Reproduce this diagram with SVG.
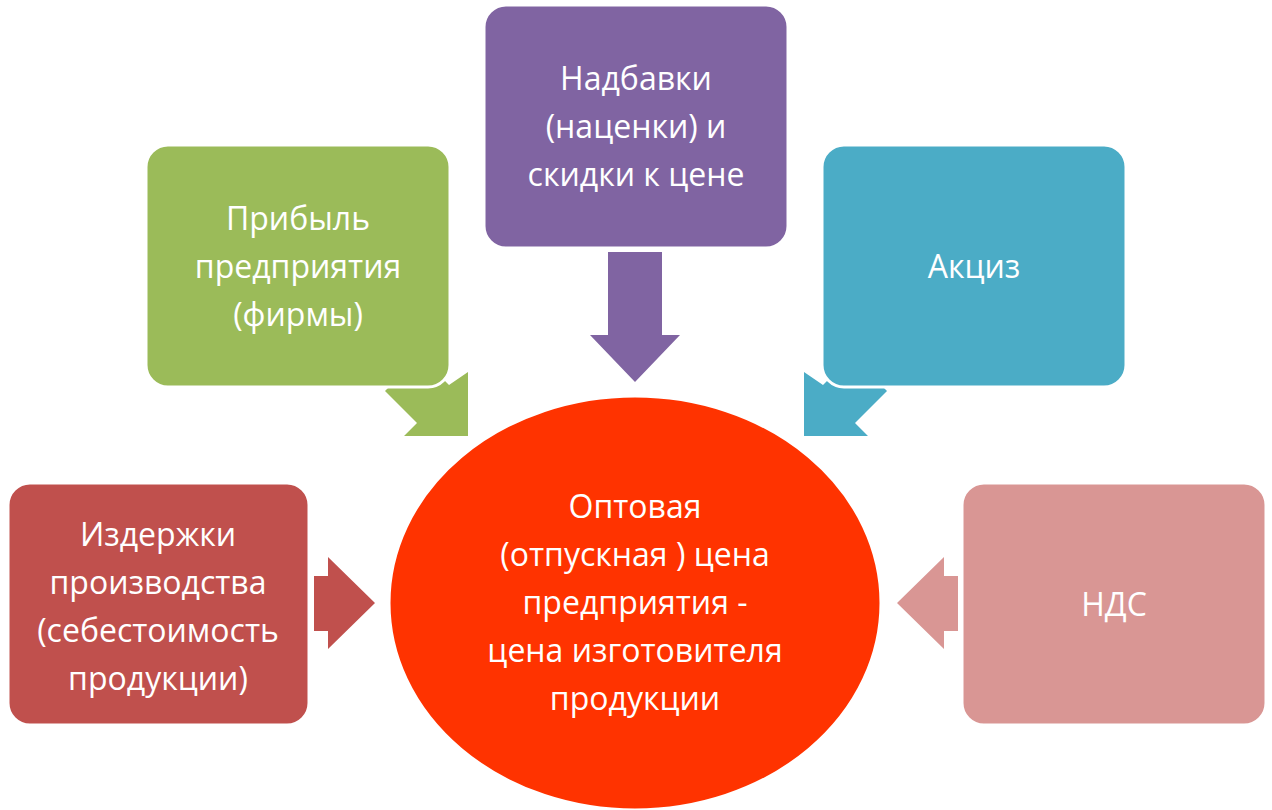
<svg xmlns="http://www.w3.org/2000/svg" width="1272" height="810" viewBox="0 0 1272 810">
<style>
.b{stroke:#fff;stroke-width:3}
text{font-family:"Open Sans","Liberation Sans",sans-serif;font-size:32px;fill:#fff;text-anchor:middle}
</style>
<rect width="1272" height="810" fill="#fff"/>
<g id="connectors">
<polygon points="468,372 468,436 404,436 417,423 385,391 420,356 449,385" fill="#9bbb59"/>
<polygon points="804,372 804,436 868,436 855,423 887,391 852,356 823,385" fill="#4bacc6"/>
<polygon points="608,252 662,252 662,335 680,335 635,382 590,335 608,335" fill="#8064a2"/>
<polygon points="314,576 328,576 328,557 375,603 328,649 328,631 314,631" fill="#c0504d"/>
<polygon points="958,576 944,576 944,557 897,603 944,649 944,631 958,631" fill="#d99694"/>
</g>
<g id="center"><ellipse cx="635" cy="603" rx="246" ry="207" fill="#ff3300" class="b"/>
<text x="635" y="518">Оптовая</text><text x="635" y="566">(отпускная ) цена</text><text x="635" y="614">предприятия -</text><text x="635" y="662">цена изготовителя</text><text x="635" y="710">продукции</text></g>
<g id="n1"><rect x="8" y="483" width="301" height="242" rx="22" fill="#c0504d" class="b"/>
<text x="158" y="546">Издержки</text><text x="158" y="594">производства</text><text x="158" y="642">(себестоимость</text><text x="158" y="690">продукции)</text></g>
<g id="n2"><rect x="146" y="145" width="304" height="242" rx="22" fill="#9bbb59" class="b"/>
<text x="298" y="230">Прибыль</text><text x="298" y="278">предприятия</text><text x="298" y="326">(фирмы)</text></g>
<g id="n3"><rect x="484" y="5" width="304" height="243" rx="22" fill="#8064a2" class="b"/>
<text x="636" y="90">Надбавки</text><text x="636" y="138">(наценки) и</text><text x="636" y="186">скидки к цене</text></g>
<g id="n4"><rect x="822" y="145" width="304" height="242" rx="22" fill="#4bacc6" class="b"/>
<text x="974" y="278">Акциз</text></g>
<g id="n5"><rect x="962" y="483" width="304" height="242" rx="22" fill="#d99694" class="b"/>
<text x="1114" y="616">НДС</text></g>
</svg>
